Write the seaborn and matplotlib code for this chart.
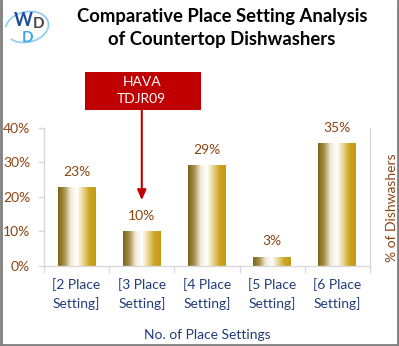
import matplotlib
matplotlib.use("Agg")
import matplotlib.pyplot as plt
import numpy as np
import pandas as pd
import seaborn as sns
from matplotlib.colors import LinearSegmentedColormap
from matplotlib.patches import Rectangle, Arc

categories = ["[2 Place\nSetting]", "[3 Place\nSetting]", "[4 Place\nSetting]",
              "[5 Place\nSetting]", "[6 Place\nSetting]"]
shares = [0.228, 0.10, 0.29, 0.026, 0.354]
yticks = [0, 0.1, 0.2, 0.3, 0.4]
title = "Comparative Place Setting Analysis\nof Countertop Dishwashers"
callout = "HAVA\nTDJR09"
callout_index = 1

sns.set_theme(style="white")
FONT = ["Lato", "DejaVu Sans"]
plt.rcParams["font.family"] = FONT

brown = "#8B4513"
navy = "#203D7A"
grid_gray = "#D9D9D9"

fig = plt.figure(figsize=(3.99, 3.46), dpi=100)
ax = fig.add_axes([44 / 399, 80.3 / 346, 326 / 399, 138 / 346])

df = pd.DataFrame({"cat": categories, "share": shares})
sns.barplot(data=df, x="cat", y="share", ax=ax, width=0.58, color="#C9A227",
            edgecolor="none", saturation=1)

gold = LinearSegmentedColormap.from_list(
    "gold", ["#7A6410", "#A89050", "#F2ECD8", "#FFFFFF", "#E8D590", "#CBA420", "#C49A14"])
grad = np.linspace(0, 1, 256).reshape(1, -1)
ax.set_ylim(0, 0.4)
ax.set_xlim(-0.5, len(categories) - 0.5)
for p in ax.patches:
    x0, y0 = p.get_x(), p.get_y()
    w, h = p.get_width(), p.get_height()
    p.set_facecolor("none")
    ax.imshow(grad, cmap=gold, aspect="auto",
              extent=[x0, x0 + w, y0, y0 + h], zorder=2,
              interpolation="bilinear")
    ax.text(x0 + w / 2, y0 + h + 0.027, f"{h:.0%}", ha="center", va="bottom",
            color=brown, fontsize=10)
ax.set_xlim(-0.5, len(categories) - 0.5)
ax.set_ylim(0, 0.4)

ax.set_yticks(yticks)
ax.set_yticklabels([f"{v:.0%}" for v in yticks], color=brown, fontsize=10)
ax.set_xticks(range(len(categories)))
ax.set_xticklabels(categories, color=navy, fontsize=10, linespacing=1.5)
ax.tick_params(axis="x", length=0, pad=9)
ax.tick_params(axis="y", length=4, color=grid_gray, width=1, pad=6, left=True)
ax.set_xticks(np.arange(-0.5, len(categories), 1), minor=True)
ax.tick_params(axis="x", which="minor", length=5, color=grid_gray, width=1, bottom=True)

for side in ["left", "bottom", "right"]:
    ax.spines[side].set_visible(True)
    ax.spines[side].set_color(grid_gray)
    ax.spines[side].set_linewidth(1)
ax.spines["top"].set_visible(False)

ax.set_xlabel("No. of Place Settings", color=navy, fontsize=10, labelpad=14)
ax.set_ylabel("")
ax2 = ax.twinx()
ax2.set_yticks([])
ax2.set_ylabel("% of Dishwashers", color=brown, fontsize=10)
ax2.yaxis.set_label_coords(1.049, 0.417)
for s in ax2.spines.values():
    s.set_visible(False)

# title
fig.text(222 / 399, 1 - 28 / 346, title, ha="center", va="center",
         fontsize=13.3, fontweight="bold", color="black", linespacing=1.4)

# callout box + arrow
bx = ax.transData.transform((callout_index, 0))[0]
fx = bx / (fig.dpi * fig.get_figwidth())
fig.patches.append(Rectangle(((bx - 57) / 399, 1 - 110 / 346), 116 / 399, 38 / 346,
                             transform=fig.transFigure, facecolor="#C00000",
                             edgecolor="none", zorder=5))
fig.text(fx, 1 - 90.5 / 346, callout, ha="center", va="center", color="white",
         fontsize=10, linespacing=1.45, zorder=6)
ax.annotate("", xy=(callout_index, shares[callout_index] + 0.09),
            xytext=(callout_index, 1 - 110 / 346),
            textcoords=("data", "figure fraction"), xycoords="data",
            arrowprops=dict(arrowstyle="-|>,head_length=0.5,head_width=0.22",
                            color="#C00000", lw=1.5, shrinkA=0, shrinkB=0),
            annotation_clip=False)

# logo
fig.text(23 / 399, 1 - 21 / 346, "W", color="#1E4E9C", fontsize=13, fontweight="bold",
         ha="center", va="center")
fig.text(39 / 399, 1 - 24 / 346, "D", color="#444444", fontsize=11, fontweight="bold",
         ha="center", va="center")
fig.text(28 / 399, 1 - 37.5 / 346, "D", color="#3AA6E8", fontsize=11, fontweight="bold",
         ha="center", va="center")
fig.patches.append(Arc((27 / 399, 1 - 27 / 346), 44 / 399, 30 / 346, angle=20,
                       theta1=200, theta2=520, transform=fig.transFigure,
                       color="#8CCBF0", lw=1.2))

# border
for xs, ys in [([0.5 / 399] * 2, [0, 1]), ([398 / 399] * 2, [0, 1]),
               ([0, 1], [1 / 346] * 2)]:
    fig.add_artist(plt.Line2D(xs, ys, transform=fig.transFigure, color="#7F7F7F", lw=2))

fig.savefig("out.png", dpi=100, facecolor="white")
